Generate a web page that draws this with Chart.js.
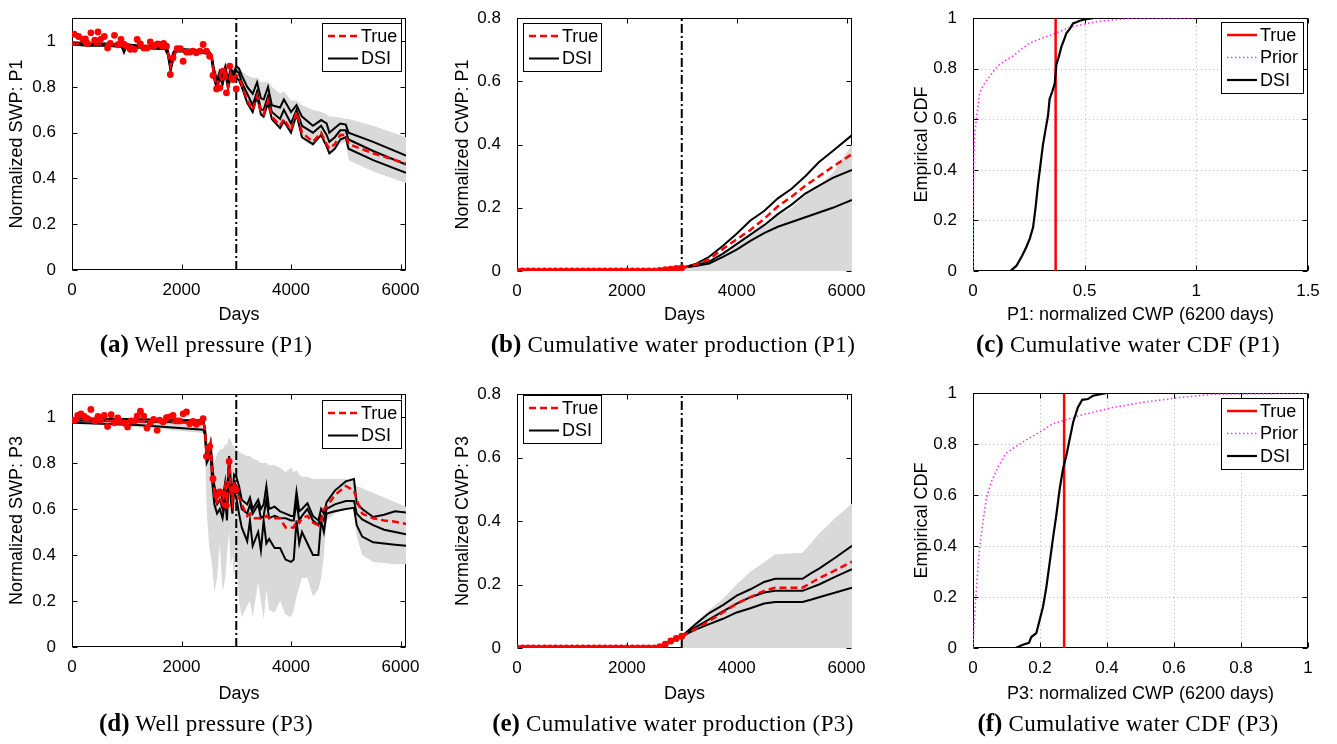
<!DOCTYPE html>
<html>
<head>
<meta charset="utf-8">
<script src="https://cdn.jsdelivr.net/npm/chart.js@4.4.1/dist/chart.umd.min.js"></script>
<style>
  body { margin: 0; background: #fff; }
  #fig { position: relative; width: 1337px; height: 744px; background: #fff; overflow: hidden; }
  #fig canvas { position: absolute; }
  .cap { position: absolute; transform: translateX(-50%); text-align: center; font-family: "Liberation Serif", "Times New Roman", serif; font-size: 23px; line-height: 28px; letter-spacing: 0.4px; color: #000; white-space: nowrap; }
  .cap b { font-size: 25px; letter-spacing: 0; }
</style>
</head>
<body>
<div id="fig">
  <canvas id="chartA" width="440" height="332" style="left:0px;top:0px"></canvas>
  <canvas id="chartB" width="445" height="332" style="left:440px;top:0px"></canvas>
  <canvas id="chartC" width="452" height="332" style="left:885px;top:0px"></canvas>
  <canvas id="chartD" width="440" height="335" style="left:0px;top:375px"></canvas>
  <canvas id="chartE" width="445" height="335" style="left:440px;top:375px"></canvas>
  <canvas id="chartF" width="452" height="335" style="left:885px;top:375px"></canvas>
  <div class="cap" style="left:206px;top:330px"><b>(a)</b> Well pressure (P1)</div>
  <div class="cap" style="left:673px;top:330px"><b>(b)</b> Cumulative water production (P1)</div>
  <div class="cap" style="left:1128px;top:330px"><b>(c)</b> Cumulative water CDF (P1)</div>
  <div class="cap" style="left:206px;top:709px"><b>(d)</b> Well pressure (P3)</div>
  <div class="cap" style="left:673px;top:709px"><b>(e)</b> Cumulative water production (P3)</div>
  <div class="cap" style="left:1128px;top:709px"><b>(f)</b> Cumulative water CDF (P3)</div>
</div>
<script>
// ---- tick labels ----
const dayTicks = [0, 2000, 4000, 6000];
const swpTicks = [0, 0.2, 0.4, 0.6, 0.8, 1];
const cwpTicks = [0, 0.2, 0.4, 0.6, 0.8];
const cdfTicks = [0, 0.2, 0.4, 0.6, 0.8, 1];
const cdfXTicksP1 = [0, 0.5, 1, 1.5];
const cdfXTicksP3 = [0, 0.2, 0.4, 0.6, 0.8, 1];
const historyEnd = [3000, 3000];

// ---- (a) well pressure P1 ----
const obsDaysA = [40,120,200,245,285,345,415,475,520,590,650,700,775,835,895,955,1005,1065,1140,1190,1250,1310,1370,1430,1505,1565,1625,1675,1725,1795,1845,1920,1980,2030,2090,2150,2210,2270,2335,2395,2455,2515,2575,2640,2700,2760,2820,2880,2940,3000];
const obsA = [1.03,1.02,1.007,1.01,0.99,1.036,1.004,1.04,1.007,1.02,0.97,0.99,1.025,0.984,1.007,0.985,0.978,0.964,0.964,1.007,0.988,0.97,0.97,0.997,0.981,0.988,0.985,0.99,0.978,0.854,0.927,0.967,0.967,0.912,0.952,0.952,0.956,0.949,0.956,0.985,0.956,0.934,0.85,0.791,0.796,0.869,0.774,0.891,0.832,0.791];
const daysA = [0,300,600,900,950,1000,1300,1600,1700,1750,1800,1850,1900,2000,2300,2500,2550,2600,2650,2700,2750,2800,2850,2900,2950,3000,3050,3100,3200,3300,3380,3450,3500,3580,3650,3800,3870,4000,4100,4200,4400,4550,4650,4700,4800,4900,5000,5050,5500,6100];
const dsiHiA = [0.995,0.99,0.99,0.985,0.985,0.985,0.98,0.975,0.975,0.96,0.90,0.95,0.965,0.965,0.96,0.955,0.94,0.87,0.83,0.87,0.85,0.89,0.83,0.88,0.86,0.89,0.88,0.85,0.80,0.77,0.82,0.75,0.745,0.80,0.72,0.71,0.745,0.69,0.72,0.67,0.63,0.655,0.64,0.60,0.62,0.64,0.635,0.60,0.56,0.50];
const dsiMidA = [0.99,0.985,0.985,0.98,0.95,0.98,0.975,0.97,0.97,0.95,0.88,0.93,0.96,0.96,0.955,0.95,0.93,0.85,0.81,0.86,0.83,0.875,0.81,0.87,0.85,0.87,0.86,0.82,0.77,0.72,0.78,0.70,0.70,0.76,0.69,0.66,0.70,0.64,0.70,0.63,0.60,0.63,0.59,0.56,0.58,0.61,0.61,0.57,0.52,0.46];
const dsiLoA = [0.985,0.98,0.98,0.975,0.97,0.975,0.97,0.965,0.965,0.94,0.87,0.92,0.955,0.955,0.95,0.945,0.92,0.83,0.79,0.84,0.81,0.86,0.79,0.85,0.83,0.84,0.83,0.80,0.73,0.69,0.76,0.68,0.67,0.73,0.66,0.62,0.65,0.60,0.68,0.58,0.55,0.59,0.54,0.51,0.53,0.57,0.58,0.53,0.48,0.425];
const trueA = [0.99,0.985,0.985,0.98,0.975,0.98,0.975,0.97,0.97,0.95,0.89,0.93,0.96,0.96,0.955,0.95,0.93,0.84,0.80,0.85,0.82,0.87,0.80,0.86,0.84,0.85,0.84,0.81,0.74,0.70,0.76,0.69,0.68,0.74,0.67,0.63,0.66,0.61,0.69,0.60,0.56,0.60,0.55,0.53,0.55,0.59,0.59,0.55,0.51,0.465];
const bandHiA = [1.0,1.0,0.995,0.99,0.99,0.99,0.985,0.98,0.98,0.97,0.93,0.96,0.97,0.97,0.965,0.965,0.95,0.89,0.87,0.88,0.87,0.90,0.88,0.90,0.89,0.89,0.89,0.87,0.85,0.84,0.84,0.82,0.82,0.82,0.80,0.77,0.78,0.74,0.74,0.72,0.70,0.69,0.68,0.67,0.67,0.665,0.66,0.66,0.63,0.58];
const bandLoA = [0.98,0.975,0.975,0.97,0.94,0.97,0.965,0.96,0.96,0.93,0.86,0.91,0.95,0.95,0.945,0.94,0.91,0.82,0.78,0.83,0.80,0.85,0.78,0.84,0.82,0.83,0.82,0.79,0.72,0.68,0.74,0.67,0.66,0.71,0.65,0.61,0.64,0.59,0.66,0.57,0.54,0.58,0.53,0.50,0.52,0.55,0.56,0.48,0.43,0.38];

// ---- (b) cumulative water P1 ----
const obsDaysCwp = [0,100,200,300,400,500,600,700,800,900,1000,1100,1200,1300,1400,1500,1600,1700,1800,1900,2000,2100,2200,2300,2400,2500,2600,2700,2800,2900,3000];
const obsB = [0,0,0,0,0,0,0,0,0,0,0,0,0,0,0,0,0,0,0,0,0,0,0,0,0,0,0.002,0.004,0.006,0.008,0.01];
const daysB = [3000,3250,3500,3750,4000,4250,4500,4750,5000,5250,5500,5750,6100];
const dsiHiB = [0.01,0.022,0.045,0.08,0.118,0.16,0.19,0.23,0.26,0.30,0.345,0.38,0.43];
const dsiMidB = [0.01,0.018,0.03,0.055,0.085,0.115,0.145,0.18,0.21,0.245,0.27,0.295,0.32];
const dsiLoB = [0.01,0.016,0.024,0.045,0.068,0.095,0.12,0.14,0.155,0.17,0.185,0.20,0.225];
const trueB = [0.01,0.02,0.037,0.07,0.10,0.13,0.165,0.205,0.235,0.27,0.30,0.33,0.37];
const bandHiB = [0.01,0.018,0.03,0.05,0.08,0.11,0.14,0.175,0.20,0.24,0.27,0.31,0.40];
const bandLoB = [0,0,0,0,0,0,0,0,0,0,0,0,0];

// ---- (c) CDF P1 ----
const dsiCdfXC = [0.167,0.194,0.22,0.239,0.255,0.269,0.28,0.291,0.302,0.313,0.325,0.336,0.343,0.355,0.366,0.373,0.385,0.396,0.41,0.418,0.435,0.448,0.465,0.478,0.50,0.537];
const dsiCdfYC = [0,0.02,0.06,0.095,0.13,0.173,0.25,0.342,0.42,0.498,0.56,0.615,0.68,0.71,0.741,0.815,0.85,0.888,0.92,0.94,0.96,0.979,0.985,0.99,0.995,1.0];
const priorCdfXC = [0,0.001,0.002,0.004,0.008,0.015,0.03,0.05,0.075,0.1,0.119,0.15,0.179,0.22,0.254,0.3,0.328,0.37,0.403,0.44,0.478,0.552,0.62,0.716,0.85,0.993];
const priorCdfYC = [0,0.15,0.3,0.45,0.55,0.60,0.706,0.74,0.77,0.80,0.817,0.835,0.85,0.88,0.902,0.918,0.927,0.94,0.953,0.965,0.973,0.986,0.993,1.0,1.0,1.0];
const trueValueC = [0.37, 0.37];

// ---- (d) well pressure P3 ----
const obsDaysD = [45,105,165,225,285,345,415,475,520,590,650,715,775,835,895,955,1015,1080,1140,1190,1250,1310,1370,1430,1490,1555,1600,1665,1725,1785,1845,1905,1965,2030,2090,2150,2210,2270,2335,2395,2455,2515,2575,2640,2700,2760,2820,2870,2930,3000];
const obsD = [0.986,1.007,1.014,1.003,0.993,1.033,0.983,1.003,0.986,1.007,0.959,1.01,0.975,0.996,0.978,0.974,0.957,0.983,0.983,1.004,1.025,1.004,0.952,0.974,0.99,0.942,0.986,0.978,0.997,1.0,1.007,0.983,0.983,1.014,1.022,0.971,0.981,0.968,0.978,0.993,0.829,0.872,0.732,0.659,0.674,0.667,0.616,0.807,0.686,0.684];
const daysD = [0,1200,2400,2430,2460,2500,2530,2560,2600,2650,2700,2750,2800,2830,2870,2900,2930,2960,3000,3050,3100,3200,3250,3300,3400,3450,3500,3550,3600,3700,3800,3900,4000,4050,4100,4150,4200,4300,4400,4500,4550,4600,4650,4800,5000,5150,5200,5300,5500,5700,5900,6100];
const dsiHiD = [0.995,0.99,0.985,0.95,0.84,0.86,0.89,0.80,0.70,0.66,0.68,0.64,0.72,0.66,0.83,0.72,0.66,0.75,0.74,0.70,0.64,0.62,0.65,0.60,0.64,0.60,0.62,0.70,0.60,0.61,0.59,0.58,0.57,0.57,0.675,0.59,0.60,0.625,0.57,0.55,0.60,0.58,0.63,0.68,0.72,0.73,0.625,0.60,0.565,0.575,0.59,0.585];
const dsiMidD = [0.985,0.98,0.975,0.94,0.82,0.84,0.87,0.76,0.66,0.62,0.64,0.60,0.68,0.62,0.80,0.68,0.62,0.72,0.70,0.66,0.60,0.58,0.62,0.58,0.62,0.56,0.57,0.64,0.56,0.57,0.56,0.56,0.55,0.55,0.63,0.55,0.57,0.60,0.55,0.53,0.57,0.55,0.60,0.62,0.635,0.635,0.58,0.555,0.53,0.51,0.50,0.49];
const dsiLoD = [0.975,0.965,0.945,0.92,0.80,0.82,0.85,0.72,0.62,0.58,0.60,0.56,0.64,0.55,0.78,0.64,0.58,0.68,0.65,0.58,0.52,0.46,0.55,0.44,0.50,0.42,0.55,0.45,0.47,0.43,0.43,0.38,0.37,0.38,0.55,0.45,0.50,0.45,0.40,0.40,0.55,0.50,0.58,0.59,0.60,0.605,0.53,0.48,0.455,0.45,0.445,0.44];
const trueD = [0.985,0.98,0.975,0.94,0.83,0.85,0.88,0.76,0.67,0.63,0.65,0.62,0.70,0.63,0.81,0.70,0.64,0.72,0.69,0.65,0.62,0.57,0.58,0.56,0.56,0.56,0.56,0.57,0.56,0.56,0.56,0.52,0.52,0.52,0.55,0.54,0.56,0.57,0.54,0.53,0.55,0.60,0.61,0.66,0.70,0.68,0.64,0.58,0.56,0.55,0.545,0.535];
const bandHiD = [1.0,0.995,0.985,0.96,0.86,0.88,0.90,0.84,0.80,0.84,0.86,0.86,0.88,0.88,0.91,0.90,0.88,0.87,0.86,0.85,0.84,0.83,0.83,0.82,0.81,0.80,0.80,0.80,0.79,0.79,0.78,0.76,0.78,0.76,0.77,0.75,0.74,0.74,0.73,0.73,0.73,0.73,0.73,0.73,0.73,0.72,0.70,0.69,0.67,0.65,0.63,0.61];
const bandLoD = [0.975,0.955,0.93,0.85,0.60,0.45,0.40,0.35,0.24,0.30,0.45,0.24,0.30,0.40,0.50,0.35,0.40,0.30,0.40,0.20,0.13,0.18,0.20,0.13,0.28,0.20,0.12,0.25,0.16,0.15,0.20,0.14,0.13,0.16,0.22,0.26,0.30,0.30,0.22,0.25,0.30,0.40,0.55,0.58,0.60,0.60,0.48,0.40,0.37,0.365,0.36,0.36];

// ---- (e) cumulative water P3 ----
const obsE = [0,0,0,0,0,0,0,0,0,0,0,0,0,0,0,0,0,0,0,0,0,0,0,0,0,0,0.004,0.012,0.022,0.03,0.037];
const daysE = [3000,3250,3500,3750,4000,4250,4500,4700,5200,5350,5500,5800,6100];
const dsiHiE = [0.037,0.075,0.11,0.135,0.165,0.185,0.208,0.218,0.218,0.235,0.25,0.285,0.322];
const dsiMidE = [0.037,0.065,0.09,0.115,0.14,0.16,0.175,0.18,0.18,0.19,0.20,0.225,0.248];
const dsiLoE = [0.037,0.058,0.075,0.092,0.112,0.125,0.14,0.145,0.145,0.152,0.16,0.175,0.19];
const trueE = [0.037,0.06,0.085,0.112,0.14,0.16,0.18,0.19,0.19,0.205,0.22,0.245,0.272];
const bandHiE = [0.04,0.08,0.12,0.155,0.20,0.24,0.27,0.295,0.30,0.33,0.36,0.41,0.455];
const bandLoE = [0,0,0,0,0,0,0,0,0,0,0,0,0];

// ---- (f) CDF P3 ----
const dsiCdfXF = [0.127,0.149,0.167,0.174,0.189,0.199,0.209,0.219,0.229,0.239,0.249,0.259,0.269,0.279,0.289,0.299,0.313,0.326,0.343,0.358,0.396];
const dsiCdfYF = [0,0.013,0.02,0.043,0.058,0.11,0.162,0.239,0.336,0.433,0.524,0.627,0.705,0.757,0.822,0.886,0.944,0.974,0.977,0.99,1.0];
const priorCdfXF = [0,0.005,0.012,0.02,0.03,0.04,0.055,0.075,0.098,0.119,0.149,0.199,0.239,0.318,0.418,0.517,0.617,0.716,1.0];
const priorCdfYF = [0,0.136,0.265,0.395,0.498,0.589,0.653,0.711,0.763,0.783,0.809,0.847,0.88,0.912,0.944,0.966,0.983,0.996,1.0];
const trueValueF = [0.272, 0.272];

const cdfSpan = [0, 1];

Chart.defaults.font.family = '"Liberation Sans", Arial, sans-serif';
Chart.defaults.color = '#000';

const RED = '#ff0000';
const GREY = '#d9d9d9';

function pts(xs, ys) {
    return xs.map((x, i) => ({ x: x, y: ys[i] }));
}

function lineDs(label, xs, ys, color, width, dash, order) {
    return {
        label, data: pts(xs, ys), borderColor: color, borderWidth: width, borderDash: dash || [],
        pointRadius: 0, fill: false, tension: 0, order
    };
}

function dotsDs(xs, ys) {
    return {
        label: '_obs', data: pts(xs, ys), showLine: false, pointRadius: 3.4, pointBorderWidth: 0,
        pointBackgroundColor: RED, borderColor: RED, order: -1
    };
}

function bandDs(xs, hi, lo) {
    return [
        { label: '_bandHi', data: pts(xs, hi), borderWidth: 0, borderColor: 'rgba(0,0,0,0)', pointRadius: 0, backgroundColor: GREY, fill: '+1', order: 10 },
        { label: '_bandLo', data: pts(xs, lo), borderWidth: 0, borderColor: 'rgba(0,0,0,0)', pointRadius: 0, fill: false, order: 10 }
    ];
}

const fmt = (v) => String(Math.round(v * 100) / 100);

// matlab style frame: dotted grid + box under the data, inner ticks, boxed legend on top
const matlabBox = {
    id: 'matlabBox',
    beforeDatasetsDraw(chart, args, o) {
        const { ctx, chartArea: a, scales: { x, y } } = chart;
        ctx.save();
        if (o.grid) {
            ctx.strokeStyle = '#bdbdbd';
            ctx.lineWidth = 1;
            ctx.setLineDash([1, 3]);
            x.ticks.forEach((t) => {
                const px = Math.round(x.getPixelForValue(t.value)) + 0.5;
                if (px < a.left + 2 || px > a.right - 2) return;
                ctx.beginPath(); ctx.moveTo(px, a.top); ctx.lineTo(px, a.bottom); ctx.stroke();
            });
            y.ticks.forEach((t) => {
                const py = Math.round(y.getPixelForValue(t.value)) + 0.5;
                if (py < a.top + 2 || py > a.bottom - 2) return;
                ctx.beginPath(); ctx.moveTo(a.left, py); ctx.lineTo(a.right, py); ctx.stroke();
            });
        }
        ctx.setLineDash([]);
        ctx.strokeStyle = '#000';
        ctx.lineWidth = 1;
        const L = Math.round(a.left) + 0.5, R = Math.round(a.right) - 0.5;
        const T = Math.round(a.top) + 0.5, B = Math.round(a.bottom) - 0.5;
        ctx.strokeRect(L, T, R - L, B - T);
        const len = 5;
        ctx.beginPath();
        x.ticks.forEach((t) => {
            const px = Math.round(x.getPixelForValue(t.value)) + 0.5;
            ctx.moveTo(px, B); ctx.lineTo(px, B - len);
            ctx.moveTo(px, T); ctx.lineTo(px, T + len);
        });
        y.ticks.forEach((t) => {
            const py = Math.round(y.getPixelForValue(t.value)) + 0.5;
            ctx.moveTo(L, py); ctx.lineTo(L + len, py);
            ctx.moveTo(R, py); ctx.lineTo(R - len, py);
        });
        ctx.stroke();
        ctx.restore();
    },
    afterDatasetsDraw(chart, args, o) {
        const lg = o.legend;
        if (!lg) return;
        const { ctx, chartArea: a } = chart;
        ctx.save();
        const h = lg.items.length * 22.5 + 3;
        const bx = Math.round(lg.side === 'right' ? a.right - lg.insetX - lg.width : a.left + lg.insetX);
        const by = Math.round(a.top + lg.insetY);
        ctx.fillStyle = '#fff';
        ctx.fillRect(bx, by, lg.width, h);
        ctx.strokeStyle = '#000';
        ctx.lineWidth = 1;
        ctx.strokeRect(bx + 0.5, by + 0.5, lg.width, Math.round(h));
        lg.items.forEach((name, i) => {
            const ds = chart.data.datasets.find((d) => d.label === name);
            const cy = by + 13 + i * 22.5;
            ctx.strokeStyle = ds.borderColor;
            ctx.lineWidth = ds.borderWidth;
            ctx.setLineDash(ds.borderDash || []);
            ctx.beginPath(); ctx.moveTo(bx + 6, cy); ctx.lineTo(bx + 36, cy); ctx.stroke();
            ctx.setLineDash([]);
            ctx.fillStyle = '#000';
            ctx.font = '18px "Liberation Sans", Arial, sans-serif';
            ctx.textBaseline = 'middle';
            ctx.textAlign = 'left';
            ctx.fillText(name, bx + 39, cy + 1);
        });
        ctx.restore();
    }
};

function makeChart(id, p) {
    return new Chart(document.getElementById(id), {
        type: 'line',
        data: { datasets: p.datasets },
        options: {
            responsive: false,
            animation: false,
            devicePixelRatio: 1,
            layout: { padding: { left: 0, top: p.top, right: p.right, bottom: 0 } },
            plugins: {
                legend: { display: false },
                tooltip: { enabled: false },
                matlabBox: { grid: p.grid, legend: p.legend }
            },
            scales: {
                x: {
                    type: 'linear', min: p.xMin, max: p.xMax,
                    grid: { display: false }, border: { display: false },
                    afterBuildTicks: (s) => { s.ticks = p.xTicks.map((v) => ({ value: v })); },
                    afterFit: (s) => { s.height = p.xHeight; },
                    ticks: { autoSkip: false, maxRotation: 0, padding: 2, color: '#000', font: { size: 17 }, callback: fmt },
                    title: { display: true, text: p.xTitle, color: '#000', font: { size: 18 }, padding: { top: 0, bottom: p.xTitlePad } }
                },
                y: {
                    type: 'linear', min: p.yMin, max: p.yMax,
                    grid: { display: false }, border: { display: false },
                    afterBuildTicks: (s) => { s.ticks = p.yTicks.map((v) => ({ value: v })); },
                    afterFit: (s) => { s.width = p.yWidth; },
                    ticks: { autoSkip: false, padding: 8, color: '#000', font: { size: 17 }, callback: fmt },
                    title: { display: true, text: p.yTitle, color: '#000', font: { size: 18 }, padding: { top: p.yTitlePad, bottom: 0 } }
                }
            }
        },
        plugins: [matlabBox]
    });
}

function timePanel(obsDays, obs, days, hi, mid, lo, tru, bandX, bandHi, bandLo, yMax) {
    return [].concat(
        bandDs(bandX, bandHi, bandLo),
        [
            dotsDs(obsDays, obs),
            lineDs('True', days, tru, RED, 2.5, [7, 4], 0),
            lineDs('DSI', days, mid, '#000', 2, [], 1),
            lineDs('_dsiHi', days, hi, '#000', 2, [], 1),
            lineDs('_dsiLo', days, lo, '#000', 2, [], 1),
            lineDs('_history', historyEnd, [0, yMax], '#000', 2, [9, 3, 2, 3], 2)
        ]
    );
}

function cdfPanel(trueX, priorX, priorY, dsiX, dsiY) {
    return [
        lineDs('True', trueX, cdfSpan, RED, 2.5, [], 1),
        lineDs('Prior', priorX, priorY, '#ff33ff', 1.6, [1.5, 2.5], 2),
        lineDs('DSI', dsiX, dsiY, '#000', 2.2, [], 0)
    ];
}

makeChart('chartA', {
    datasets: timePanel(obsDaysA, obsA, daysA, dsiHiA, dsiMidA, dsiLoA, trueA, daysA, bandHiA, bandLoA, 1.1),
    top: 18, right: 34, xHeight: 62, yWidth: 72, xTitlePad: 6, yTitlePad: 6,
    xMin: 0, xMax: 6100, yMin: 0, yMax: 1.1, xTicks: dayTicks, yTicks: swpTicks,
    xTitle: 'Days', yTitle: 'Normalized SWP: P1',
    legend: { items: ['True', 'DSI'], side: 'right', insetX: 5, insetY: 5, width: 79 }
});

makeChart('chartB', {
    datasets: timePanel(obsDaysCwp, obsB, daysB, dsiHiB, dsiMidB, dsiLoB, trueB, daysB, bandHiB, bandLoB, 0.8),
    top: 14, right: 33, xHeight: 61, yWidth: 77, xTitlePad: 6, yTitlePad: 12,
    xMin: 0, xMax: 6100, yMin: 0, yMax: 0.8, xTicks: dayTicks, yTicks: cwpTicks,
    xTitle: 'Days', yTitle: 'Normalized CWP: P1',
    legend: { items: ['True', 'DSI'], side: 'left', insetX: 6, insetY: 5, width: 78 }
});

makeChart('chartC', {
    datasets: cdfPanel(trueValueC, priorCdfXC, priorCdfYC, dsiCdfXC, dsiCdfYC),
    top: 15, right: 29, xHeight: 61, yWidth: 88, xTitlePad: 6, yTitlePad: 26, grid: true,
    xMin: 0, xMax: 1.5, yMin: 0, yMax: 1, xTicks: cdfXTicksP1, yTicks: cdfTicks,
    xTitle: 'P1: normalized CWP (6200 days)', yTitle: 'Empirical CDF',
    legend: { items: ['True', 'Prior', 'DSI'], side: 'right', insetX: 5, insetY: 4, width: 82 }
});

makeChart('chartD', {
    datasets: timePanel(obsDaysD, obsD, daysD, dsiHiD, dsiMidD, dsiLoD, trueD, daysD, bandHiD, bandLoD, 1.1),
    top: 19, right: 34, xHeight: 63, yWidth: 72, xTitlePad: 5, yTitlePad: 6,
    xMin: 0, xMax: 6100, yMin: 0, yMax: 1.1, xTicks: dayTicks, yTicks: swpTicks,
    xTitle: 'Days', yTitle: 'Normalized SWP: P3',
    legend: { items: ['True', 'DSI'], side: 'right', insetX: 5, insetY: 6, width: 79 }
});

makeChart('chartE', {
    datasets: timePanel(obsDaysCwp, obsE, daysE, dsiHiE, dsiMidE, dsiLoE, trueE, daysE, bandHiE, bandLoE, 0.8),
    top: 19, right: 33, xHeight: 62, yWidth: 77, xTitlePad: 5, yTitlePad: 12,
    xMin: 0, xMax: 6100, yMin: 0, yMax: 0.8, xTicks: dayTicks, yTicks: cwpTicks,
    xTitle: 'Days', yTitle: 'Normalized CWP: P3',
    legend: { items: ['True', 'DSI'], side: 'left', insetX: 6, insetY: 1, width: 78 }
});

makeChart('chartF', {
    datasets: cdfPanel(trueValueF, priorCdfXF, priorCdfYF, dsiCdfXF, dsiCdfYF),
    top: 16, right: 29, xHeight: 62, yWidth: 88, xTitlePad: 5, yTitlePad: 26, grid: true,
    xMin: 0, xMax: 1, yMin: 0, yMax: 1, xTicks: cdfXTicksP3, yTicks: cdfTicks,
    xTitle: 'P3: normalized CWP (6200 days)', yTitle: 'Empirical CDF',
    legend: { items: ['True', 'Prior', 'DSI'], side: 'right', insetX: 5, insetY: 5, width: 82 }
});
</script>
</body>
</html>
